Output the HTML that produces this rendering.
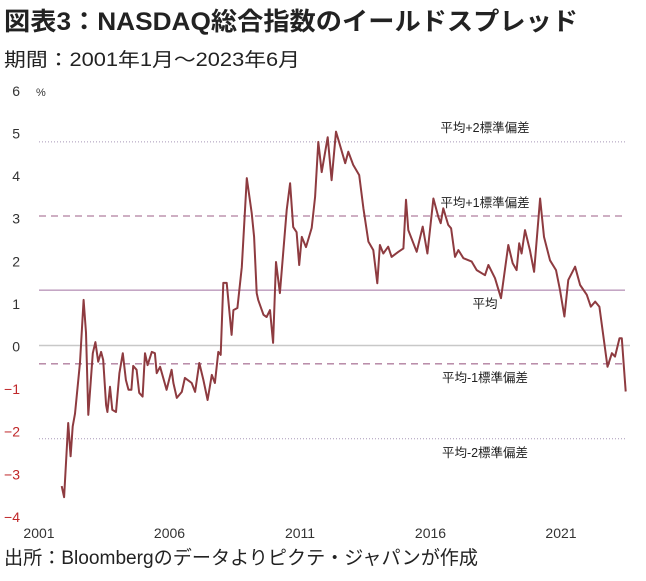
<!DOCTYPE html>
<html><head><meta charset="utf-8"><style>
html,body{margin:0;padding:0;background:#fff;}
body{width:646px;height:576px;overflow:hidden;font-family:"Liberation Sans","Noto Sans CJK JP",sans-serif;}
</style></head><body>
<svg width="646" height="576" xmlns="http://www.w3.org/2000/svg" font-family="'Liberation Sans','Noto Sans CJK JP',sans-serif">
<text x="4" y="30" font-size="25" font-weight="bold" fill="#222" textLength="574" lengthAdjust="spacingAndGlyphs">図表3：NASDAQ総合指数のイールドスプレッド</text>
<text x="4" y="66" font-size="19" fill="#222" textLength="296" lengthAdjust="spacingAndGlyphs">期間：2001年1月～2023年6月</text>
<text x="4" y="564" font-size="19" fill="#222" textLength="474" lengthAdjust="spacingAndGlyphs">出所：Bloombergのデータよりピクテ・ジャパンが作成</text>
<g id="grid"></g><g id="axes"></g><g id="series"></g><g id="notes"></g>
</svg>
<script>
const yTicks=[6,5,4,3,2,1,0,-1,-2,-3,-4];
const xTicks=[2001,2006,2011,2016,2021];
const refValues=[4.78,3.04,1.30,-0.43,-2.19];
const refLabels=["平均+2標準偏差","平均+1標準偏差","平均","平均-1標準偏差","平均-2標準偏差"];
const dates=[2001.87,2001.96,2002.12,2002.21,2002.29,2002.38,2002.57,2002.71,2002.8,2002.89,2003.06,2003.16,2003.27,2003.38,2003.46,2003.57,2003.62,2003.72,2003.81,2003.95,2004.08,2004.21,2004.33,2004.43,2004.54,2004.61,2004.74,2004.84,2004.97,2005.06,2005.16,2005.32,2005.44,2005.51,2005.64,2005.89,2006.08,2006.15,2006.28,2006.47,2006.59,2006.85,2006.98,2007.14,2007.3,2007.46,2007.62,2007.74,2007.87,2007.96,2008.06,2008.19,2008.38,2008.45,2008.6,2008.77,2008.96,2009.15,2009.24,2009.34,2009.4,2009.6,2009.72,2009.85,2009.97,2010.08,2010.23,2010.49,2010.62,2010.74,2010.87,2010.97,2011.07,2011.23,2011.45,2011.58,2011.7,2011.83,2012.06,2012.21,2012.38,2012.51,2012.73,2012.85,2013.04,2013.27,2013.43,2013.62,2013.81,2013.96,2014.06,2014.19,2014.38,2014.51,2014.77,2014.96,2015.06,2015.15,2015.47,2015.7,2015.88,2016.11,2016.3,2016.39,2016.49,2016.68,2016.79,2016.94,2017.07,2017.26,2017.58,2017.77,2018.09,2018.22,2018.47,2018.7,2018.98,2019.15,2019.3,2019.4,2019.49,2019.62,2019.81,2019.97,2020.2,2020.35,2020.58,2020.81,2020.96,2021.13,2021.28,2021.54,2021.73,2021.99,2022.14,2022.31,2022.47,2022.78,2022.95,2023.07,2023.24,2023.33,2023.48];
const spread=[-3.30,-3.56,-1.82,-2.6,-1.9,-1.6,-0.4,1.07,0.3,-1.63,-0.18,0.08,-0.38,-0.15,-0.34,-1.4,-1.56,-0.97,-1.51,-1.56,-0.65,-0.18,-0.81,-1.04,-1.04,-0.48,-0.57,-1.11,-1.2,-0.18,-0.46,-0.15,-0.18,-0.65,-0.5,-1.04,-0.57,-0.88,-1.23,-1.09,-0.76,-0.88,-1.09,-0.41,-0.81,-1.28,-0.69,-0.88,-0.15,-0.22,1.47,1.47,0.25,0.83,0.88,1.84,3.93,3.11,2.55,1.23,1.07,0.72,0.67,0.83,0.06,1.96,1.23,3.18,3.81,2.78,2.66,1.89,2.55,2.31,2.76,3.49,4.78,4.07,4.89,3.88,5.02,4.75,4.28,4.55,4.24,4.0,3.22,2.44,2.24,1.46,2.36,2.16,2.32,2.08,2.2,2.28,3.42,2.71,2.2,2.79,2.16,3.45,3.02,2.87,3.22,2.83,2.75,2.08,2.24,2.05,1.97,1.77,1.65,1.89,1.58,1.11,2.36,1.93,1.77,2.4,2.16,2.71,2.24,1.73,3.45,2.55,2.0,1.77,1.3,0.68,1.54,1.85,1.42,1.19,0.91,1.03,0.91,-0.5,-0.18,-0.26,0.17,0.17,-1.08];

const NS="http://www.w3.org/2000/svg";
const yS=v=>345.5-v*42.6;
const xS=t=>39+(t-2001)*26.1;
function mk(tag,attrs,parent){const e=document.createElementNS(NS,tag);for(const k in attrs)e.setAttribute(k,attrs[k]);document.getElementById(parent).appendChild(e);return e;}

yTicks.forEach(v=>{
  const t=mk('text',{x:20,y:yS(v)+6,'text-anchor':'end','font-size':14,fill:v<0?'#c0282a':'#333'},'axes');
  t.textContent=v<0?'−'+Math.abs(v):String(v);
  
  
});
const pct=mk('text',{x:36,y:yS(6)+6,'font-size':11,fill:'#333'},'axes');
pct.textContent='%';


xTicks.forEach(y=>{
  const t=mk('text',{x:xS(y),y:538,'text-anchor':'middle','font-size':14,fill:'#333'},'axes');
  t.textContent=String(y);
  
  
});
const z=mk('line',{x1:39,x2:630,y1:yS(0),y2:yS(0),stroke:'#c8c8c8','stroke-width':1.5},'grid');



const styles=[['#a898b8','1','1 2'],['#b07f9f','1.3','7 5'],['#a070a0','1',''],['#b07f9f','1.3','7 5'],['#a898b8','1','1 2']];
const labelOffsets=[-14,-13,14,14,14];
refValues.forEach((v,i)=>{
  const l=mk('line',{x1:39,x2:625,y1:yS(v),y2:yS(v),stroke:styles[i][0],'stroke-width':styles[i][1]},'grid');
  if(styles[i][2])l.setAttribute('stroke-dasharray',styles[i][2]);
  
  
  const t=mk('text',{x:485,y:yS(v)+labelOffsets[i]+4,'text-anchor':'middle','font-size':12.5,fill:'#222'},'notes');
  t.textContent=refLabels[i];
  
  
});
const d=dates.map((t,i)=>(i?'L':'M')+xS(t).toFixed(1)+','+yS(spread[i]).toFixed(1)).join(' ');
const p=mk('path',{d:d,fill:'none',stroke:'#8e3b40','stroke-width':2,'stroke-linejoin':'round'},'series');


</script>
</body></html>
